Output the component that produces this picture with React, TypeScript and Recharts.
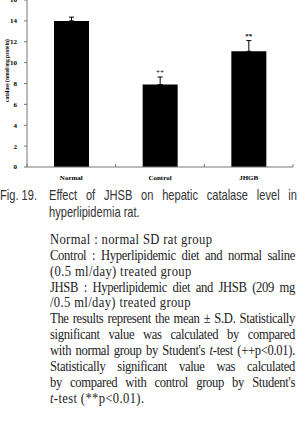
import React from 'react';
import { ComposedChart, Bar, Line, XAxis, YAxis, ErrorBar, LabelList } from 'recharts';

const categories = ['Normal', 'Control', 'JHGB'];
const means = [14.0, 7.9, 11.08];
const sds = [0.36, 0.72, 1.03];
const signif = ['', '++', '**'];
const yTicks = [0, 2, 4, 6, 8, 10, 12, 14, 16];

const data = categories.map((name, i) => ({
  name,
  mean: means[i],
  err: [0, sds[i]],
  top: means[i] + sds[i],
  sig: signif[i],
}));

const AXIS = '#777';
const SERIF = '"Liberation Serif", "Times New Roman", serif';

const XTick = (props: any) => {
  const { x, y, payload, index, visibleTicksCount, width } = props;
  const half = payload && payload.offset ? payload.offset : width / visibleTicksCount / 2;
  const isLast = index === visibleTicksCount - 1;
  return (
    <g>
      <line x1={x - half} x2={x - half} y1={y} y2={y - 3} stroke={AXIS} strokeWidth={1} />
      {isLast && <line x1={x + half} x2={x + half} y1={y} y2={y - 3} stroke={AXIS} strokeWidth={1} />}
      <text x={x} y={y + 12.5} textAnchor="middle" fontSize={7} fontWeight="bold" fontFamily={SERIF} fill="#000">
        {payload.value}
      </text>
    </g>
  );
};

const YLabel = (props: any) => {
  const vb = props.viewBox || { x: 0, y: 0, width: 0, height: 0 };
  const cx = vb.x + 7;
  const cy = vb.y + vb.height / 2 - 13;
  return (
    <text
      x={cx}
      y={cy}
      transform={`rotate(-90 ${cx} ${cy})`}
      textAnchor="middle"
      dominantBaseline="central"
      fontSize={5.5}
      fontWeight="bold"
      fontFamily={SERIF}
      fill="#000"
    >
      catalase (nmol/mg protein)
    </text>
  );
};

const captionLine1Lead = 'Fig. 19.';
const captionLine1 = 'Effect of JHSB on hepatic catalase level in';
const captionLine2 = 'hyperlipidemia rat.';

type NoteLine = { parts: (string | { i: string })[]; justify: boolean };
const noteLines: NoteLine[] = [
  { parts: ['Normal : normal SD rat group'], justify: false },
  { parts: ['Control : Hyperlipidemic diet and normal saline'], justify: true },
  { parts: ['(0.5 ml/day) treated group'], justify: false },
  { parts: ['JHSB : Hyperlipidemic diet and JHSB (209 mg'], justify: true },
  { parts: ['/0.5 ml/day) treated group'], justify: false },
  { parts: ['The results represent the mean \u00b1 S.D. Statistically'], justify: true },
  { parts: ['significant value was calculated by compared'], justify: true },
  { parts: ["with normal group by Student's ", { i: 't' }, '-test (++p<0.01).'], justify: true },
  { parts: ['Statistically significant value was calculated'], justify: true },
  { parts: ["by compared with control group by Student's"], justify: true },
  { parts: [{ i: 't' }, '-test (**p<0.01).'], justify: false },
];

const CAP_SCALE = 0.74;
const NOTE_SCALE = 0.9;

export default function App() {
  return (
    <div style={{ position: 'absolute', left: 0, top: 0, width: 300, height: 429, overflow: 'hidden', background: '#fff' }}>
      <div style={{ position: 'absolute', left: 0, top: -10 }}>
        <ComposedChart width={300} height={197} data={data} margin={{ top: 10, right: 7, left: 0, bottom: 0 }}>
          <XAxis
            dataKey="name"
            stroke={AXIS}
            tickLine={false}
            tickSize={0}
            tickMargin={0}
            height={20}
            interval={0}
            tick={<XTick />}
          />
          <YAxis
            domain={[0, 16]}
            ticks={yTicks}
            width={27}
            stroke={AXIS}
            tickSize={3}
            tickMargin={7}
            interval={0}
            tick={{ fontSize: 7, fontWeight: 'bold', fontFamily: SERIF, fill: '#000' }}
            label={<YLabel />}
          />
          <Bar dataKey="mean" fill="#000" barSize={35} isAnimationActive={false}>
            <ErrorBar dataKey="err" width={2.5} stroke="#000" strokeWidth={1} direction="y" />
          </Bar>
          <Line dataKey="top" stroke="none" dot={false} activeDot={false} isAnimationActive={false}>
            <LabelList dataKey="sig" position="top" offset={3} fontSize={7} fontWeight="bold" fontFamily={SERIF} fill="#000" />
          </Line>
        </ComposedChart>
      </div>

      <div
        style={{
          position: 'absolute',
          left: 0,
          top: 187.3,
          width: 297 / CAP_SCALE,
          transform: `scaleX(${CAP_SCALE})`,
          transformOrigin: '0 0',
          fontFamily: '"Liberation Sans", Arial, sans-serif',
          fontSize: 15,
          lineHeight: '16.5px',
          color: '#333',
          whiteSpace: 'nowrap',
        }}
      >
        <div style={{ position: 'relative', height: 16.5 }}>
          <span style={{ position: 'absolute', left: 0, top: 0 }}>{captionLine1Lead}</span>
          <div style={{ marginLeft: 49 / CAP_SCALE, textAlign: 'justify', textAlignLast: 'justify' } as any}>{captionLine1}</div>
        </div>
        <div style={{ marginLeft: 49 / CAP_SCALE }}>{captionLine2}</div>
      </div>

      <div
        style={{
          position: 'absolute',
          left: 50,
          top: 232,
          width: 245 / NOTE_SCALE,
          transform: `scaleX(${NOTE_SCALE})`,
          transformOrigin: '0 0',
          fontFamily: SERIF,
          fontSize: 14,
          lineHeight: '15.86px',
          color: '#222',
          whiteSpace: 'nowrap',
        }}
      >
        {noteLines.map((ln, k) => (
          <div
            key={k}
            style={{
              textAlign: ln.justify ? 'justify' : 'left',
              textAlignLast: ln.justify ? 'justify' : 'left',
              letterSpacing: ln.justify ? '-0.35px' : '0.4px',
            } as any}
          >
            {ln.parts.map((p, j) => (typeof p === 'string' ? <React.Fragment key={j}>{p}</React.Fragment> : <i key={j}>{p.i}</i>))}
          </div>
        ))}
      </div>
    </div>
  );
}
